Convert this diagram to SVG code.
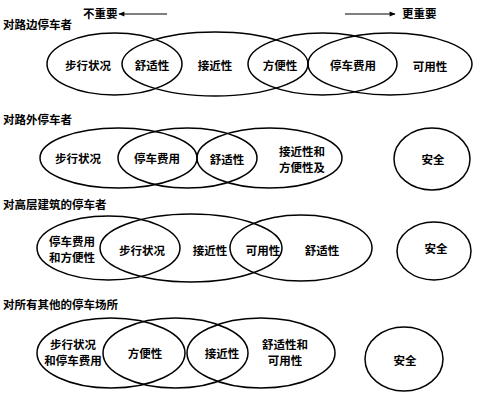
<svg xmlns="http://www.w3.org/2000/svg" width="485" height="415" viewBox="0 0 485 415">
<defs>
<style>
.e{fill:none;stroke:#000;stroke-width:1.5}
.t{font-family:"Noto Sans CJK SC","Noto Sans",sans-serif;font-size:11.5px;font-weight:bold;fill:#000;text-anchor:middle;dominant-baseline:central}
.h{font-family:"Noto Sans CJK SC","Noto Sans",sans-serif;font-size:11.5px;font-weight:bold;fill:#000}
.a{stroke:#000;stroke-width:1.2;fill:none}
</style>
<marker id="ah" viewBox="0 0 10 10" refX="9" refY="5" markerWidth="8" markerHeight="6" orient="auto" markerUnits="userSpaceOnUse"><path d="M0,1 L10,5 L0,9 Z" fill="#000"/></marker>
</defs>
<rect width="485" height="415" fill="#fff"/>
<g id="legend">
<text class="h" x="83" y="18">不重要</text>
<text class="h" x="402" y="18">更重要</text>
</g>
<g id="connectors">
<line class="a" x1="167" y1="14" x2="119" y2="14" marker-end="url(#ah)"/>
<line class="a" x1="345" y1="14" x2="395" y2="14" marker-end="url(#ah)"/>
</g>
<g id="row1">
<text class="h" x="3" y="29">对路边停车者</text>
<ellipse class="e" cx="114.5" cy="64" rx="67.5" ry="31"/>
<ellipse class="e" cx="215" cy="64" rx="93" ry="32"/>
<ellipse class="e" cx="322.5" cy="64" rx="74.5" ry="31"/>
<ellipse class="e" cx="390" cy="64" rx="82" ry="31"/>
<text class="t" x="88" y="65">步行状况</text>
<text class="t" x="152" y="65">舒适性</text>
<text class="t" x="215" y="65">接近性</text>
<text class="t" x="280" y="65">方便性</text>
<text class="t" x="353" y="65">停车费用</text>
<text class="t" x="430" y="66">可用性</text>
</g>
<g id="row2">
<text class="h" x="3" y="124">对路外停车者</text>
<ellipse class="e" cx="118.5" cy="158" rx="78.5" ry="30"/>
<ellipse class="e" cx="187.5" cy="158" rx="69.5" ry="30"/>
<ellipse class="e" cx="269.5" cy="158" rx="72.5" ry="30"/>
<text class="t" x="78" y="158">步行状况</text>
<text class="t" x="157" y="158">停车费用</text>
<text class="t" x="227" y="159">舒适性</text>
<text class="t" x="302" y="151">接近性和</text>
<text class="t" x="302" y="167">方便性及</text>
<ellipse class="e" cx="432" cy="159" rx="38" ry="31"/>
<text class="t" x="433" y="159">安全</text>
</g>
<g id="row3">
<text class="h" x="3" y="209">对高层建筑的停车者</text>
<ellipse class="e" cx="108.5" cy="248" rx="71.5" ry="32"/>
<ellipse class="e" cx="191" cy="248" rx="91" ry="34"/>
<ellipse class="e" cx="301" cy="248" rx="71" ry="33"/>
<text class="t" x="72" y="241">停车费用</text>
<text class="t" x="72" y="257">和方便性</text>
<text class="t" x="142" y="250">步行状况</text>
<text class="t" x="210" y="250">接近性</text>
<text class="t" x="263" y="250">可用性</text>
<text class="t" x="322" y="250">舒适性</text>
<ellipse class="e" cx="434" cy="251" rx="37" ry="29"/>
<text class="t" x="436" y="248">安全</text>
</g>
<g id="row4">
<text class="h" x="3" y="309">对所有其他的停车场所</text>
<ellipse class="e" cx="111" cy="353" rx="74" ry="35"/>
<ellipse class="e" cx="175.5" cy="353" rx="72.5" ry="35"/>
<ellipse class="e" cx="261" cy="353" rx="74" ry="35"/>
<text class="t" x="73" y="344">步行状况</text>
<text class="t" x="73" y="360">和停车费用</text>
<text class="t" x="145" y="353">方便性</text>
<text class="t" x="222" y="353">接近性</text>
<text class="t" x="285" y="344">舒适性和</text>
<text class="t" x="285" y="360">可用性</text>
<ellipse class="e" cx="404" cy="359" rx="39" ry="32"/>
<text class="t" x="405" y="360">安全</text>
</g>
</svg>
